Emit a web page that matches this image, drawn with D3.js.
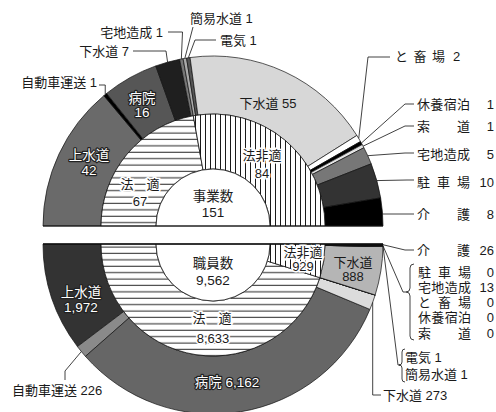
<!DOCTYPE html>
<html><head><meta charset="utf-8">
<script src="https://cdn.jsdelivr.net/npm/d3@7"></script>
<style>
body{margin:0;background:#fff}
svg text{font-family:"Liberation Sans","Noto Sans CJK JP",sans-serif;font-size:13px;fill:#1a1a1a}
</style></head><body>
<svg id="chart" width="496" height="412"></svg>
<script>
// 事業数 — upper half, slices listed from left to right
const upperCategories = ["上水道","自動車運送","病院","下水道","宅地造成","簡易水道","電気","下水道","と畜場","休養宿泊","索道","宅地造成","駐車場","介護"];
const upperValues     = [42, 1, 16, 7, 1, 1, 1, 55, 2, 1, 1, 5, 10, 8];
const upperLawCategories = ["法適","法非適"];
const upperLawValues     = [67, 84];

// 職員数 — lower half, slices listed from left to right
const lowerCategories = ["上水道","自動車運送","病院","下水道","簡易水道","電気","下水道","索道","休養宿泊","と畜場","宅地造成","駐車場","介護"];
const lowerValues     = [1972, 226, 6162, 273, 1, 1, 888, 0, 0, 0, 13, 0, 26];
const lowerLawCategories = ["法適","法非適"];
const lowerLawValues     = [8633, 929];

const centerTitles = ["事業数","職員数"];

// fills per slice
const upperFills = ["#6a6a6a","#000","#565656","#1f1f1f","#777","#aaa","#555","#d7d7d7","#fff","#000","#e4e4e4","#777","#333","#000"];
const lowerFills = ["#333","#8a8a8a","#666","#dcdcdc","#aaa","#555","#b5b5b5","#fff","#fff","#fff","#777","#333","#000"];

const fmt = d3.format(",");
const svg = d3.select("#chart");
const cx = 213, cyUp = 226, cyLo = 244;
const rOut = 170, rMid = 112, rIn = 57;
const H = Math.PI / 2;

const defs = svg.append("defs");
const ph = defs.append("pattern").attr("id","hLines").attr("patternUnits","userSpaceOnUse")
  .attr("width",8).attr("height",6.4);
ph.append("rect").attr("width",8).attr("height",6.4).attr("fill","#fff");
ph.append("line").attr("x1",0).attr("x2",8).attr("y1",3).attr("y2",3).attr("stroke","#000").attr("stroke-width",0.9);
const pv = defs.append("pattern").attr("id","vLines").attr("patternUnits","userSpaceOnUse")
  .attr("width",5).attr("height",8);
pv.append("rect").attr("width",5).attr("height",8).attr("fill","#fff");
pv.append("line").attr("y1",0).attr("y2",8).attr("x1",2.5).attr("x2",2.5).attr("stroke","#000").attr("stroke-width",0.9);

const outerArc = d3.arc().innerRadius(rMid).outerRadius(rOut);
const midArc = d3.arc().innerRadius(rIn).outerRadius(rMid);
const coreArc = d3.arc().innerRadius(0).outerRadius(rIn);

function half(cy, values, fills, lawValues, a0, a1) {
  const g = svg.append("g").attr("transform", `translate(${cx},${cy})`);
  const pie = d3.pie().sort(null).startAngle(a0).endAngle(a1);
  const slices = pie(values);
  g.selectAll("path.outer").data(slices).join("path").attr("class","outer")
    .attr("d", outerArc).attr("fill", (d,i) => fills[i])
    .attr("stroke","#111").attr("stroke-width",0.7);
  const law = pie(lawValues);
  g.selectAll("path.mid").data(law).join("path").attr("class","mid")
    .attr("d", midArc).attr("fill", (d,i) => i === 0 ? "url(#hLines)" : "url(#vLines)")
    .attr("stroke","#111").attr("stroke-width",0.8);
  g.append("path").attr("d", coreArc({startAngle:a0, endAngle:a1}))
    .attr("fill","#fff").attr("stroke","#111").attr("stroke-width",0.8);
  return {g, slices, law};
}

const up = half(cyUp, upperValues, upperFills, upperLawValues, -H, H);
const lo = half(cyLo, lowerValues, lowerFills, lowerLawValues, 3 * H, H);

// straight edges along the split
svg.append("line").attr("x1", cx - rOut).attr("x2", cx + rOut).attr("y1", cyUp).attr("y2", cyUp)
  .attr("stroke","#111").attr("stroke-width",1);
svg.append("line").attr("x1", cx - rOut).attr("x2", cx + rOut).attr("y1", cyLo).attr("y2", cyLo)
  .attr("stroke","#111").attr("stroke-width",1.6);

// point on the outer rim at a slice's middle angle
function rim(half, cy, i, frac = 0.5) {
  const s = half.slices[i];
  const a = s.startAngle + (s.endAngle - s.startAngle) * frac;
  return [cx + rOut * Math.sin(a), cy - rOut * Math.cos(a)];
}
const lineGen = d3.line();
function leader(points) {
  svg.append("path").attr("d", lineGen(points)).attr("fill","none")
    .attr("stroke","#111").attr("stroke-width",0.8);
}
function txt(x, y, s, anchor = "start", cls) {
  const t = svg.append("text").attr("x", x).attr("y", y).attr("dominant-baseline","central")
    .attr("text-anchor", anchor).text(s);
  if (cls === "halo") t.attr("stroke","#fff").attr("stroke-width",3).attr("paint-order","stroke");
  if (cls === "outline") t.style("fill","#fff").attr("stroke","#222").attr("stroke-width",2.4)
    .attr("paint-order","stroke").attr("stroke-linejoin","round").style("font-size","13.5px");
  return t;
}
// name spread across a fixed box, value right aligned
function listLabel(x0, y, name, value, boxW = 53, numRight = 494) {
  const chars = Array.from(name), cw = 13;
  chars.forEach((c, k) => {
    const x = chars.length === 1 ? x0 : x0 + k * (boxW - cw) / (chars.length - 1);
    txt(x, y, c);
  });
  txt(numRight, y, fmt(value), "end");
}

// ---- upper half labels ----
let p;
p = rim(up, cyUp, 1); leader([p, [p[0], 85], [99, 85]]);
txt(97, 82, `${upperCategories[1]} ${upperValues[1]}`, "end");
p = rim(up, cyUp, 3); leader([p, [166, 51], [133, 51]]);
txt(129, 51, `${upperCategories[3]} ${upperValues[3]}`, "end");
p = rim(up, cyUp, 4); leader([p, [182.5, 32], [168, 32]]);
txt(163, 32, `${upperCategories[4]} ${upperValues[4]}`, "end");
p = rim(up, cyUp, 5); leader([p, [193, 27]]);
txt(190, 18, `${upperCategories[5]} ${upperValues[5]}`);
p = rim(up, cyUp, 6); leader([p, [195, 40], [216, 40]]);
txt(220, 40, `${upperCategories[6]} ${upperValues[6]}`);

p = rim(up, cyUp, 8); leader([p, [368, 57], [390, 57]]);
Array.from(upperCategories[8]).forEach((c, k) => txt(395 + k * 18.5, 56, c));
txt(453, 56, fmt(upperValues[8]));
p = rim(up, cyUp, 9); leader([p, [405, 104], [414, 104]]);
listLabel(417, 104, upperCategories[9], upperValues[9]);
p = rim(up, cyUp, 10); leader([p, [405, 126], [414, 126]]);
listLabel(417, 126, upperCategories[10], upperValues[10]);
p = rim(up, cyUp, 11); leader([p, [405, 153], [414, 153]]);
listLabel(417, 154, upperCategories[11], upperValues[11]);
p = rim(up, cyUp, 12); leader([p, [407, 180], [414, 180]]);
listLabel(417, 182, upperCategories[12], upperValues[12]);
p = rim(up, cyUp, 13); leader([[p[0], 214], [414, 214]]);
listLabel(417, 214, upperCategories[13], upperValues[13]);

// inside labels, upper
txt(268, 103, `${upperCategories[7]} ${upperValues[7]}`, "middle");
txt(89, 155, upperCategories[0], "middle", "outline");
txt(89, 170, fmt(upperValues[0]), "middle", "outline");
txt(142, 98, upperCategories[2], "middle", "outline");
txt(142, 112, fmt(upperValues[2]), "middle", "outline");
txt(140, 184, "法　適", "middle", "halo");
txt(140, 201, fmt(upperLawValues[0]), "middle", "halo");
txt(262, 155, upperLawCategories[1], "middle", "halo");
txt(262, 173, fmt(upperLawValues[1]), "middle", "halo");
txt(cx, 196, centerTitles[0], "middle").style("font-size","13.5px");
txt(cx, 212, fmt(d3.sum(upperValues)), "middle").style("font-size","13.5px");

// ---- lower half labels ----
p = rim(lo, cyLo, 12); leader([p, [405, 250], [414, 250]]);
listLabel(417, 250, lowerCategories[12], lowerValues[12]);

// bracketed group: 駐車場, 宅地造成, と畜場, 休養宿泊, 索道
const grp = [11, 10, 9, 8, 7];
p = rim(lo, cyLo, 10); leader([p, [403, 292], [406, 292]]);
svg.append("path").attr("fill","none").attr("stroke","#111").attr("stroke-width",0.8)
  .attr("d","M414,264 Q410,264 410,268 L410,288 Q410,292 406,292 Q410,292 410,296 L410,336 Q410,340 414,340");
grp.forEach((i, k) => listLabel(418, 272 + k * 15.3, lowerCategories[i], lowerValues[i]));

// bracketed pair: 電気, 簡易水道
p = rim(lo, cyLo, 6, 1); leader([p, [398, 365], [400, 365]]);
svg.append("path").attr("fill","none").attr("stroke","#111").attr("stroke-width",0.8)
  .attr("d","M405,349 Q402,349 402,352 L402,362 Q402,365 399,365 Q402,365 402,368 L402,379 Q402,382 405,382");
txt(405, 357, `${lowerCategories[5]} ${lowerValues[5]}`);
txt(405, 374, `${lowerCategories[4]} ${lowerValues[4]}`);

p = rim(lo, cyLo, 3); leader([p, [p[0], 395], [381, 395]]);
txt(383, 395, `${lowerCategories[3]} ${fmt(lowerValues[3])}`);

p = rim(lo, cyLo, 1); leader([p, [65, 371], [65, 380]]);
txt(12, 390, `${lowerCategories[1]} ${fmt(lowerValues[1])}`);

// inside labels, lower
txt(353, 262, lowerCategories[6], "middle");
txt(353, 276, fmt(lowerValues[6]), "middle");
txt(81, 292, lowerCategories[0], "middle", "outline");
txt(81, 307, fmt(lowerValues[0]), "middle", "outline");
txt(227, 382, `${lowerCategories[2]} ${fmt(lowerValues[2])}`, "middle", "outline");
txt(212, 318, "法　適", "middle", "halo");
txt(213, 338, fmt(lowerLawValues[0]), "middle", "halo");
txt(303, 252, lowerLawCategories[1], "middle", "halo");
txt(303, 266, fmt(lowerLawValues[1]), "middle", "halo");
txt(cx, 263, centerTitles[1], "middle").style("font-size","13.5px");
txt(cx, 280, fmt(d3.sum(lowerValues)), "middle").style("font-size","13.5px");
</script>
</body></html>
